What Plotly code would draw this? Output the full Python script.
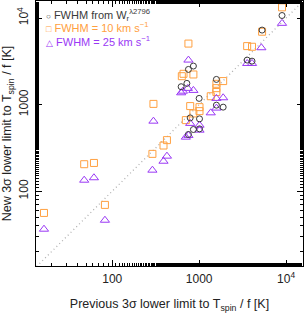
import plotly.graph_objects as go

# FWHM from W_r (circles)
circ_prev = [8990, 5300, 3570, 4060, 859, 753, 723, 621, 1580, 1000, 1890, 1580, 1010, 789, 859, 1010, 753]
circ_new = [10700, 7260, 3270, 3180, 2790, 2550, 1760, 1610, 1955, 1180, 935, 986, 685, 703, 516, 525, 452]

# FWHM = 10 km/s (squares)
sq_prev = [8990, 5300, 3570, 4060, 753, 661, 632, 859, 1890, 1580, 1580, 1580, 1360, 789, 1010, 1010, 859, 703,
           298, 426, 389, 290, 16.4, 47.6, 61.6, 82.4]
sq_new = [13300, 6950, 4740, 4660, 5070, 2270, 2130, 2230, 1870, 1740, 1550, 1400, 1250, 962, 935, 841, 791, 662,
          1020, 389, 337, 270, 56.1, 205, 212, 69.5]

# FWHM = 25 km/s (triangles)
tri_prev = [8990, 5200, 3570, 4060, 753, 741, 859, 621, 650, 1890, 1580, 1580, 1360, 789, 1010, 1010, 703, 753,
            298, 426, 389, 290, 16.4, 47.6, 61.6, 82.4]
tri_new = [8690, 4540, 2990, 2990, 3270, 1540, 1460, 1370, 1430, 1200, 1180, 912, 804, 607, 579, 507, 421, 441,
           644, 254, 222, 175, 36.4, 134, 143, 46.2]

one_to_one = [10, 20000]

tick_vals = [100, 1000, 10000]
tick_text = ["100", "1000", "10<sup>4</sup>"]

BLACK = "#3a3a3a"
ORANGE = "#FFA040"
PURPLE = "#9A38F5"
FONT = "Liberation Sans"

fig = go.Figure()
fig.add_trace(go.Scatter(x=one_to_one, y=one_to_one, mode="lines",
                         line=dict(color="#b0b0b0", width=1.3, dash="1px,3px"), showlegend=False))
fig.add_trace(go.Scatter(x=sq_prev, y=sq_new, mode="markers",
                         marker=dict(symbol="square-open", size=7, color=ORANGE, line=dict(width=1)),
                         showlegend=False))
fig.add_trace(go.Scatter(x=tri_prev, y=tri_new, mode="markers",
                         marker=dict(symbol="triangle-up-open", size=8, color=PURPLE, line=dict(width=1)),
                         showlegend=False))
fig.add_trace(go.Scatter(x=circ_prev, y=circ_new, mode="markers",
                         marker=dict(symbol="circle-open", size=6, color=BLACK, line=dict(width=1)),
                         showlegend=False))

axis_common = dict(
    type="log", showgrid=False, zeroline=False, automargin=False,
    showline=True, linecolor="black", linewidth=1, mirror="ticks",
    ticks="inside", ticklen=6, tickcolor="black", tickwidth=1,
    minor=dict(ticks="inside", ticklen=3, tickcolor="black", tickwidth=1, showgrid=False),
    tickvals=tick_vals, ticktext=tick_text,
    tickfont=dict(family=FONT, size=12, color="#222"),
)

fig.update_xaxes(**axis_common, range=[1.123, 4.195], ticklabelstandoff=2,
                 title=dict(text="Previous 3σ lower limit to T<sub>spin</sub> / f [K]",
                            font=dict(family=FONT, size=12.5, color="#222"), standoff=14))
fig.update_yaxes(**axis_common, range=[1.136, 4.197], tickangle=-90, ticklabelstandoff=2,
                 title=dict(text="New 3σ lower limit to T<sub>spin</sub> / f [K]",
                            font=dict(family=FONT, size=12.5, color="#222"), standoff=8))

legend_lines = [
    ("<span style='font-size:8px'>○</span> FWHM from W<sub>r</sub><sup>λ2796</sup>", BLACK, 0.947),
    ("<span style='font-size:9px'>□</span> FWHM = 10 km s<sup>−1</sup>", ORANGE, 0.900),
    ("<span style='font-size:9px'>△</span> FWHM = 25 km s<sup>−1</sup>", PURPLE, 0.850),
]
for txt, col, yy in legend_lines:
    fig.add_annotation(text=txt, xref="paper", yref="paper", x=0.03, y=yy,
                       xanchor="left", yanchor="middle", showarrow=False,
                       font=dict(family=FONT, size=11, color=col))

fig.update_layout(
    width=304, height=313,
    margin=dict(l=36, r=1, t=1, b=47),
    plot_bgcolor="white", paper_bgcolor="white",
    showlegend=False,
)

fig.write_html("out.html", config={"displayModeBar": False},
               post_script="document.body.style.margin='0';document.body.style.padding='0';")
